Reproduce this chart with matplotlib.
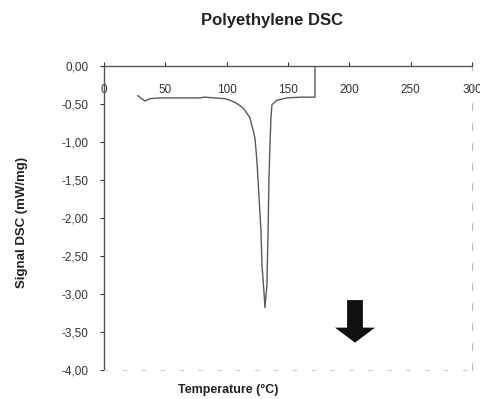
import matplotlib
matplotlib.use("Agg")
import matplotlib.pyplot as plt
import numpy as np

plt.rcParams['font.family'] = ['Liberation Sans', 'DejaVu Sans']

# Data
temperature = [27.7, 30.5, 33.4, 37.5, 45, 55, 65, 78, 82, 90, 98.6, 102.7, 108, 113.3,
               119.0, 123.1, 124.7, 126.3, 128.0, 128.8, 130.4, 131.2, 132.8, 133.7,
               134.5, 135.3, 136.1, 136.9, 141.0, 149.1, 160, 172, 172]
signal = [-0.39, -0.43, -0.46, -0.43, -0.42, -0.42, -0.42, -0.42, -0.41, -0.42, -0.43,
          -0.45, -0.49, -0.55, -0.68, -0.95, -1.26, -1.70, -2.18, -2.62, -2.97, -3.18,
          -2.88, -2.22, -1.47, -1.04, -0.68, -0.51, -0.45, -0.42, -0.41, -0.41, 0.0]
x_ticks = [0, 50, 100, 150, 200, 250, 300]
y_ticks = [0.0, -0.5, -1.0, -1.5, -2.0, -2.5, -3.0, -3.5, -4.0]
y_tick_labels = ['0,00', '-0,50', '-1,00', '-1,50', '-2,00', '-2,50', '-3,00', '-3,50', '-4,00']
arrow_x = 204.6
arrow_top = -3.08
arrow_tip = -3.64

fig = plt.figure(figsize=(4.81, 3.99), dpi=100)
ax = fig.add_axes([104/481, 1-370/399, (472-104)/481, (370-66)/399])

ax.plot(temperature, signal, color='#5a5a5a', lw=1.0)

ax.set_xlim(0, 300)
ax.set_ylim(-4.0, 0.0)

ax.xaxis.set_ticks_position('top')
ax.set_xticks(x_ticks)
ax.set_xticklabels([str(t) for t in x_ticks])
ax.tick_params(axis='x', direction='out', length=3, width=0.8, pad=-16,
               labelsize=8.5, colors='#333333')
for lbl in ax.get_xticklabels():
    lbl.set_verticalalignment('top')

ax.set_yticks(y_ticks)
ax.set_yticklabels(y_tick_labels)
ax.tick_params(axis='y', direction='out', length=3, width=0.8, pad=8,
               labelsize=8.5, colors='#333333')

ax.spines['top'].set_color('#555555')
ax.spines['left'].set_color('#555555')
ax.spines['top'].set_linewidth(1.0)
ax.spines['left'].set_linewidth(1.0)
ax.spines['right'].set_color('#bbbbbb')
ax.spines['right'].set_linestyle((0, (6, 12)))
ax.spines['bottom'].set_color('#cccccc')
ax.spines['bottom'].set_linestyle((0, (3, 14)))

# arrow
ax.annotate('', xy=(arrow_x, arrow_tip), xytext=(arrow_x, arrow_top),
            arrowprops=dict(arrowstyle='simple,head_width=2.4,head_length=0.9,tail_width=0.95',
                            color='#111111', lw=0, shrinkA=0, shrinkB=0,
                            mutation_scale=12))

fig.text(272/481, 1-20/399, 'Polyethylene DSC', ha='center', va='center',
         fontsize=12, fontweight='bold', color='#222222')
fig.text(22/481, 1-222/399, 'Signal DSC (mW/mg)', ha='center', va='center',
         rotation=90, fontsize=9.5, fontweight='bold', color='#222222')
fig.text(228/481, 1-390/399, 'Temperature (°C)', ha='center', va='center',
         fontsize=9, fontweight='bold', color='#222222')

fig.savefig('out.png', dpi=100)
